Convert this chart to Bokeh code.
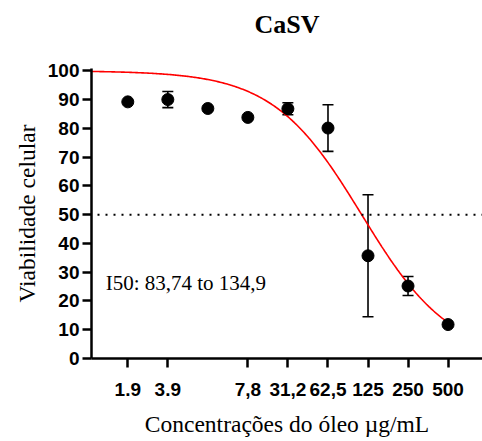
import numpy as np
from bokeh.plotting import figure
from bokeh.models import (Range1d, FixedTicker, CustomJSTickFormatter, Whisker,
                          TeeHead, Span, Label, Title, ColumnDataSource)
from bokeh.embed import file_html
from bokeh.resources import INLINE

# ---- data ----
concentrations = [1.95, 3.9, 7.8, 15.6, 31.2, 62.5, 125, 250, 500]
viability = [89.2, 90.0, 86.9, 83.8, 86.8, 80.1, 35.7, 25.2, 11.8]
error = [0.0, 2.8, 0.0, 0.0, 2.1, 8.1, 21.2, 3.3, 0.0]

tick_values = [1.95, 3.9, 15.6, 31.2, 62.5, 125, 250, 500]
tick_labels = ["1.9", "3.9", "7,8", "31,2", "62,5", "125", "250", "500"]
y_ticks = [0, 10, 20, 30, 40, 50, 60, 70, 80, 90, 100]

# fitted dose-response (4PL) parameters
FIT_TOP = 100.0
FIT_BOTTOM = 0.0
FIT_IC50 = 112.0
FIT_HILL = 1.3
FIT_XMIN = 1.0
FIT_XMAX = 500.0

threshold = 50
ic50_text = "I50: 83,74 to 134,9"
title_text = "CaSV"

SERIF = "Liberation Serif"
SANS = "Liberation Sans"

p = figure(width=482, height=441, x_axis_type="log",
           x_range=Range1d(1.04, 908), y_range=Range1d(0, 100.8),
           output_backend="svg", toolbar_location=None,
           min_border_left=91, min_border_right=0,
           min_border_top=68, min_border_bottom=83)

# invisible spacer between the title and the plot area
p.add_layout(Title(text=" ", text_font_size="12px", standoff=11,
                   text_color="white"), "above")

p.title.text = title_text
p.title.align = "center"
p.title.text_font = SERIF
p.title.text_font_style = "bold"
p.title.text_font_size = "26px"
p.title.text_color = "black"
p.title.standoff = 6

p.outline_line_color = None
p.xgrid.visible = False
p.ygrid.visible = False
p.background_fill_color = "white"

# curve
cx = np.geomspace(FIT_XMIN, FIT_XMAX, 300)
cy = FIT_BOTTOM + (FIT_TOP - FIT_BOTTOM) / (1 + (cx / FIT_IC50) ** FIT_HILL)
p.line(cx, cy, line_color="red", line_width=1.6)

# threshold line
p.add_layout(Span(location=threshold, dimension="width", line_color="black",
                  line_width=2, line_dash="2 6", line_dash_offset=2))

# error bars
ex = [c for c, e in zip(concentrations, error) if e > 0]
ey = [v for v, e in zip(viability, error) if e > 0]
ee = [e for e in error if e > 0]
err_src = ColumnDataSource(dict(x=ex, upper=[v + e for v, e in zip(ey, ee)],
                                lower=[v - e for v, e in zip(ey, ee)]))
p.add_layout(Whisker(source=err_src, base="x", upper="upper", lower="lower",
                     line_width=1.6, line_color="black",
                     upper_head=TeeHead(size=11, line_width=1.6, line_color="black"),
                     lower_head=TeeHead(size=11, line_width=1.6, line_color="black")))

p.scatter(concentrations, viability, size=12, color="black")

p.add_layout(Label(x=1.33, y=26.1, text=ic50_text, text_font=SERIF,
                   text_font_size="21px", text_color="black",
                   text_baseline="alphabetic"))

# axes
xa = p.xaxis[0]
xa.ticker = FixedTicker(ticks=tick_values)
xa.formatter = CustomJSTickFormatter(args=dict(vals=tick_values, labs=tick_labels), code="""
    for (let i = 0; i < vals.length; i++) {
        if (Math.abs(vals[i] - tick) < 1e-6 * vals[i]) return labs[i];
    }
    return "";
""")
xa.axis_label = "Concentrações do óleo µg/mL"

ya = p.yaxis[0]
ya.ticker = FixedTicker(ticks=y_ticks)
ya.axis_label = "Viabilidade celular"

for ax in (xa, ya):
    ax.axis_line_width = 2.5
    ax.axis_line_color = "black"
    ax.major_tick_line_width = 2.5
    ax.major_tick_line_color = "black"
    ax.major_tick_in = 0
    ax.major_tick_out = 9
    ax.minor_tick_line_color = None
    ax.major_label_text_font = SANS
    ax.major_label_text_font_style = "bold"
    ax.major_label_text_font_size = "19px"
    ax.major_label_text_color = "black"
    ax.major_label_standoff = 3
    ax.axis_label_text_font = SERIF
    ax.axis_label_text_font_style = "normal"
    ax.axis_label_text_font_size = "23.5px"
    ax.axis_label_text_color = "black"

xa.major_label_standoff = 15
xa.axis_label_standoff = 12
ya.axis_label_standoff = 5

open("out.html", "w").write(file_html(p, INLINE))
